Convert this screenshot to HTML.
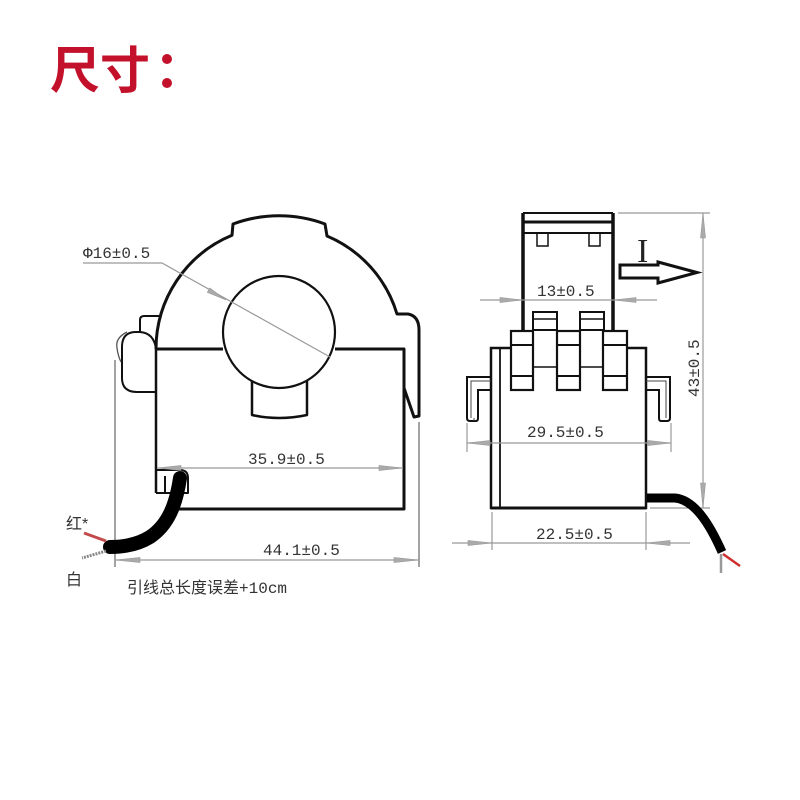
<!DOCTYPE html>
<html><head><meta charset="utf-8"><style>
html,body{margin:0;padding:0;background:#fff;}
svg{display:block;}
.t{font-family:"Liberation Mono","Noto Sans CJK SC",monospace;font-size:16px;fill:#333;}
.c{font-family:"Liberation Sans","Noto Sans CJK SC",sans-serif;fill:#333;}
</style></head><body>
<svg width="800" height="800" viewBox="0 0 800 800" xmlns="http://www.w3.org/2000/svg">
<rect width="800" height="800" fill="#fff"/>
<text x="50" y="88" font-family="'Liberation Sans','Noto Sans CJK SC',sans-serif" font-size="50" font-weight="bold" fill="#c3112b">尺寸</text>
<circle cx="167" cy="59" r="5" fill="#c3112b"/>
<circle cx="167" cy="83" r="5" fill="#c3112b"/>

<!-- LEFT VIEW -->
<g fill="none" stroke="#111" stroke-linejoin="round">
  <path d="M156,349 A123,123 0 0 1 232,235.3 L233,224 A133,133 0 0 1 325,224 L327,236 A123,123 0 0 1 397,314 L408,314 Q419,316 419,330 L419,416 L414,417 L404,388" stroke-width="3"/>
  <path d="M156,349 L223,349 M335,349 L404,349 L404,509 L172,509" stroke-width="3"/>
  <path d="M156,349 L156,493" stroke-width="2.5"/>
  <circle cx="279" cy="332" r="56" stroke-width="2.2"/>
  <path d="M252,381 L252,415 Q279,421 307,415 L307,381" stroke-width="2.5"/>
  <path d="M161,316 L144,316 Q140,316 140,320 L140,333" stroke-width="2"/>
  <path d="M156,349 Q154,333 140,332 L136,332 Q122,332 122,347 L122,378 Q122,392 137,392 L156,392" stroke-width="2"/>
  <path d="M127,332 Q115,338 117,348 Q118,356 121,362" stroke-width="1.3" stroke="#555"/>
  <path d="M156,470 L180,470 Q188,470 188,478 L188,493 L156,493 M165,476 L165,493" stroke-width="2"/>
</g>
<g stroke="#666" stroke-width="1.2" fill="none">
  <path d="M115,360 L115,567"/>
  <path d="M419,422 L419,567"/>
</g>
<g stroke="#999" stroke-width="1.2" fill="none">
  <path d="M115,560 L419,560"/>
  <path d="M157,468 L403,468"/>
  <path d="M83,263 L162,263 L330,357"/>
</g>
<g fill="#aaa" stroke="#999" stroke-width="0.6">
  <polygon points="115,560 140,557.5 140,562.5"/>
  <polygon points="419,560 394,557.5 394,562.5"/>
  <polygon points="157,468 181,465.5 181,470.5"/>
  <polygon points="403,468 379,465.5 379,470.5"/>
  <polygon points="226,300 207.3,292.4 209.7,288"/>
</g>
<path d="M180,478 C176,505 168,525 150,537 C137,545 122,547 110,547" stroke="#000" stroke-width="14" fill="none" stroke-linecap="round"/>
<path d="M106,541 L84,533" stroke="#c24a4a" stroke-width="3"/>
<path d="M106,551 L82,558" stroke="#888" stroke-width="3" stroke-dasharray="2 1"/>

<text class="t" x="83" y="258">Φ16±0.5</text>
<text class="t" x="248" y="464">35.9±0.5</text>
<text class="t" x="263" y="555">44.1±0.5</text>
<text class="c" x="66" y="529" font-size="16">红*</text>
<text class="c" x="66" y="585" font-size="16">白</text>
<text class="c" x="127" y="593" font-size="16">引线总长度误差<tspan font-family="'Liberation Mono',monospace" font-size="16">+10cm</tspan></text>

<!-- RIGHT VIEW -->
<g fill="none" stroke="#111" stroke-linejoin="miter">
  <path d="M523,330 L523,213 M613,213 L613,330" stroke-width="3.5"/>
  <path d="M523,213 L613,213" stroke-width="2"/>
  <path d="M523,222 L613,222" stroke-width="3"/>
  <path d="M523,233 L613,233" stroke-width="2"/>
  <rect x="537" y="233" width="11" height="13" stroke-width="1.5"/>
  <rect x="589" y="233" width="11" height="13" stroke-width="1.5"/>
  <rect x="533" y="312" width="24" height="18" stroke-width="2"/>
  <path d="M533,319 L557,319" stroke-width="1.5"/>
  <rect x="580" y="312" width="24" height="18" stroke-width="2"/>
  <path d="M580,319 L604,319" stroke-width="1.5"/>
  <path d="M533,367 L557,367 M580,367 L603,367" stroke-width="1.5"/>
  <rect x="511" y="331" width="22" height="59" stroke-width="2.2"/>
  <rect x="557" y="331" width="23" height="59" stroke-width="2.2"/>
  <rect x="603" y="331" width="24" height="59" stroke-width="2.2"/>
  <path d="M511,345 L533,345 M511,376 L533,376 M557,345 L580,345 M557,376 L580,376 M603,345 L627,345 M603,376 L627,376" stroke-width="2"/>
  <path d="M511,348 L491,348 L491,508 L646,508 L646,348 L627,348" stroke-width="2.5"/>
  <path d="M491,508 L646,508" stroke-width="3"/>
  <path d="M500,348 L500,508" stroke-width="1.8"/>
  <path d="M491,377 L467,377 L467,418 Q467,421 470,421 L476,421 Q478,421 478,418 L478,390 L491,390" stroke-width="2"/>
  <path d="M491,381 L471,381 L471,418 M474,421 L474,418" stroke-width="1" stroke="#444"/>
  <path d="M646,377 L670,377 L670,418 Q670,421 667,421 L661,421 Q659,421 659,418 L659,390 L646,390" stroke-width="2"/>
  <path d="M646,381 L666,381 L666,418" stroke-width="1" stroke="#444"/>
  <path d="M620,265 L658,265 L658,262 L697,272.5 L658,283 L658,278 L620,278 Z" stroke-width="3" fill="#fff"/>
</g>
<text x="637" y="262" font-family="'Liberation Serif',serif" font-size="34" fill="#222">I</text>

<g stroke="#999" stroke-width="1.2" fill="none">
  <path d="M480,300 L657,300"/>
  <path d="M467,443 L671,443"/>
  <path d="M467,423 L467,452 M671,423 L671,452"/>
  <path d="M452,543 L690,543"/>
  <path d="M492,512 L492,550 M646,512 L646,550"/>
  <path d="M703,213 L703,508"/>
  <path d="M618,213 L710,213"/>
  <path d="M650,508 L710,508"/>
</g>
<g fill="#aaa" stroke="#999" stroke-width="0.6">
  <polygon points="523,300 500,297.5 500,302.5"/>
  <polygon points="613,300 636,297.5 636,302.5"/>
  <polygon points="467,443 490,440.5 490,445.5"/>
  <polygon points="671,443 648,440.5 648,445.5"/>
  <polygon points="492,543 468,540.5 468,545.5"/>
  <polygon points="646,543 670,540.5 670,545.5"/>
  <polygon points="703,213 700.5,238 705.5,238"/>
  <polygon points="703,508 700.5,483 705.5,483"/>
</g>
<path d="M647,498 L675,498 C695,500 710,525 722,552" stroke="#000" stroke-width="9" fill="none"/>
<path d="M723,554 L740,566" stroke="#d03030" stroke-width="2.5"/>
<path d="M721,554 L721,573" stroke="#999" stroke-width="2.5"/>

<text class="t" x="537" y="296">13±0.5</text>
<text class="t" x="527" y="437">29.5±0.5</text>
<text class="t" x="536" y="539">22.5±0.5</text>
<text class="t" x="0" y="0" font-size="15" transform="translate(699,397) rotate(-90)">43±0.5</text>
</svg>
</body></html>
